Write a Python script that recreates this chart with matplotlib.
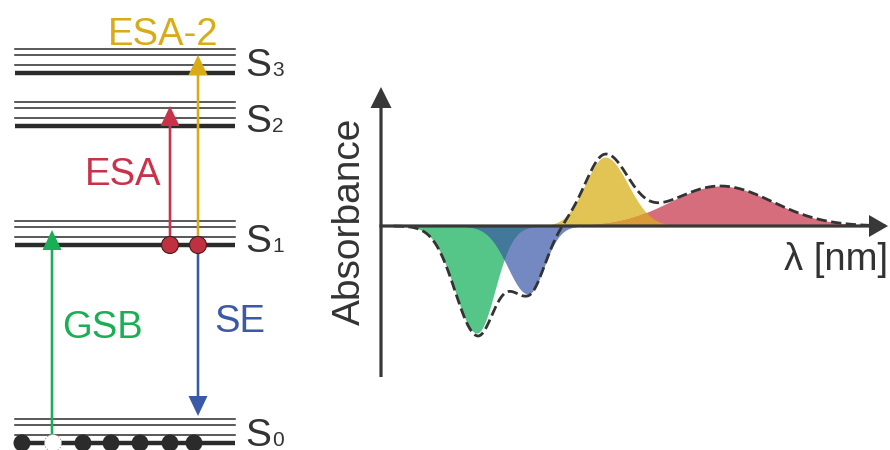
import numpy as np
import matplotlib
matplotlib.use('Agg')
import matplotlib.pyplot as plt
from matplotlib.patches import Circle

plt.rcParams['font.family'] = ['Liberation Sans', 'DejaVu Sans']

# energy levels (pixel height of the thick line) and labels
level_sub = ['0', '1', '2', '3']
level_y = [443, 245, 126, 73]
label_base = [446, 252, 132, 76]
vib_offsets = [-24, -18, -8]

# ground state population (True = filled, False = hole)
pop_x = [22, 53, 83, 111, 140, 170, 194]
pop_filled = [True, False, True, True, True, True, True]

# transitions: name, x, from, to, colour
trans_name = ['GSB', 'ESA', 'ESA-2', 'SE']
trans_x = [52, 170, 198, 198]
trans_from = [443, 245, 245, 245]
trans_to = [230, 106, 55, 416]
trans_color = ['#1aae55', '#c8334a', '#d8ab17', '#3a5aa8']
label_pos = [(62, 338), (85, 185), (108, 45), (214, 332)]

# spectral bands (arbitrary units): GSB, SE, ESA-2, ESA
band_center = [18.9, 29.0, 44.2, 66.9]
band_sig_l = [4.3, 4.0, 3.9, 9.9]
band_sig_r = [3.55, 3.16, 4.5, 10.3]
band_amp = [-1.07, -0.68, 0.69, 0.40]
band_fill = ['#55c688', '#7489c2', '#e2c455', '#d56d7c']
overlap_gb = '#42789a'
overlap_yr = '#d99a38'

ink = '#333333'

fig = plt.figure(figsize=(8.9, 4.5), dpi=100)

# spectrum
ax1 = fig.add_axes([381/890, 1-377/450, (888-381)/890, (377-87)/450])
ax1.set_xlim(0, 100)
ax1.set_ylim(-1.51, 1.39)
ax1.axis('off')

wl = np.linspace(0, 100, 1200)
bands = []
for c, sl, sr, a in zip(band_center, band_sig_l, band_sig_r, band_amp):
    s = np.where(wl < c, sl, sr)
    bands.append(a*np.exp(-(wl-c)**2/(2*s**2)))
g, b, y, r = bands
ax1.fill_between(wl, 0, g, color=band_fill[0], lw=0)
ax1.fill_between(wl, 0, b, color=band_fill[1], lw=0)
ax1.fill_between(wl, 0, np.maximum(g, b), color=overlap_gb, lw=0)
ax1.fill_between(wl, 0, y, color=band_fill[2], lw=0)
ax1.fill_between(wl, 0, r, color=band_fill[3], lw=0)
ax1.fill_between(wl, 0, np.minimum(y, r), color=overlap_yr, lw=0)
total = g + b + y + r
m = wl > 2.5
ax1.plot(wl[m], total[m], '--', color=ink, lw=2.0)

# overlay in pixel units
ax0 = fig.add_axes([0, 0, 1, 1])
ax0.set_xlim(0, 890)
ax0.set_ylim(450, 0)
ax0.axis('off')
ax0.patch.set_alpha(0)

# spectrum axes arrows
ax0.arrow(381, 377, 0, 87-377, width=3.2, head_width=21, head_length=21,
          length_includes_head=True, color='#383838', lw=0)
ax0.arrow(379.4, 226, 888-379.4, 0, width=3.2, head_width=22, head_length=19,
          length_includes_head=True, color='#383838', lw=0)
ax0.text(350, 221, 'Absorbance', rotation=90, ha='center', va='center',
         fontsize=28, color=ink)
ax0.text(888, 270, 'λ [nm]', ha='right', va='baseline', fontsize=27.5, color=ink)

# levels
for sub, ly, lb in zip(level_sub, level_y, label_base):
    ax0.plot([15, 235], [ly, ly], color='#2b2b2b', lw=3.2, solid_capstyle='butt')
    for off in vib_offsets:
        ax0.plot([15, 235], [ly+off, ly+off], color='#2b2b2b', lw=1.1)
    ax0.text(245, lb, 'S', ha='left', va='baseline', fontsize=28, color=ink)
    ax0.text(272, lb, sub, ha='left', va='baseline', fontsize=15, color=ink)

# transitions
for name, x, y0, y1, col, pos in zip(trans_name, trans_x, trans_from, trans_to,
                                     trans_color, label_pos):
    ax0.arrow(x, y0, 0, y1-y0, width=2.6, head_width=19, head_length=20,
              length_includes_head=True, color=col, lw=0, zorder=3)
    ax0.text(pos[0], pos[1], name, ha='left', va='baseline', fontsize=27.5, color=col)

for px, filled in zip(pop_x, pop_filled):
    if filled:
        ax0.add_patch(Circle((px, 443), 8.5, fc='#2b2b2b', ec='none', zorder=4))
    else:
        ax0.add_patch(Circle((px, 443), 8.5, fc='white', ec='#999999', lw=0.8,
                             ls=':', zorder=4))

for px in [170, 198]:
    ax0.add_patch(Circle((px, 245), 8.5, fc='#c0313f', ec='#4a1a1e', lw=0.8, zorder=4))

fig.savefig('out.png', dpi=100)
